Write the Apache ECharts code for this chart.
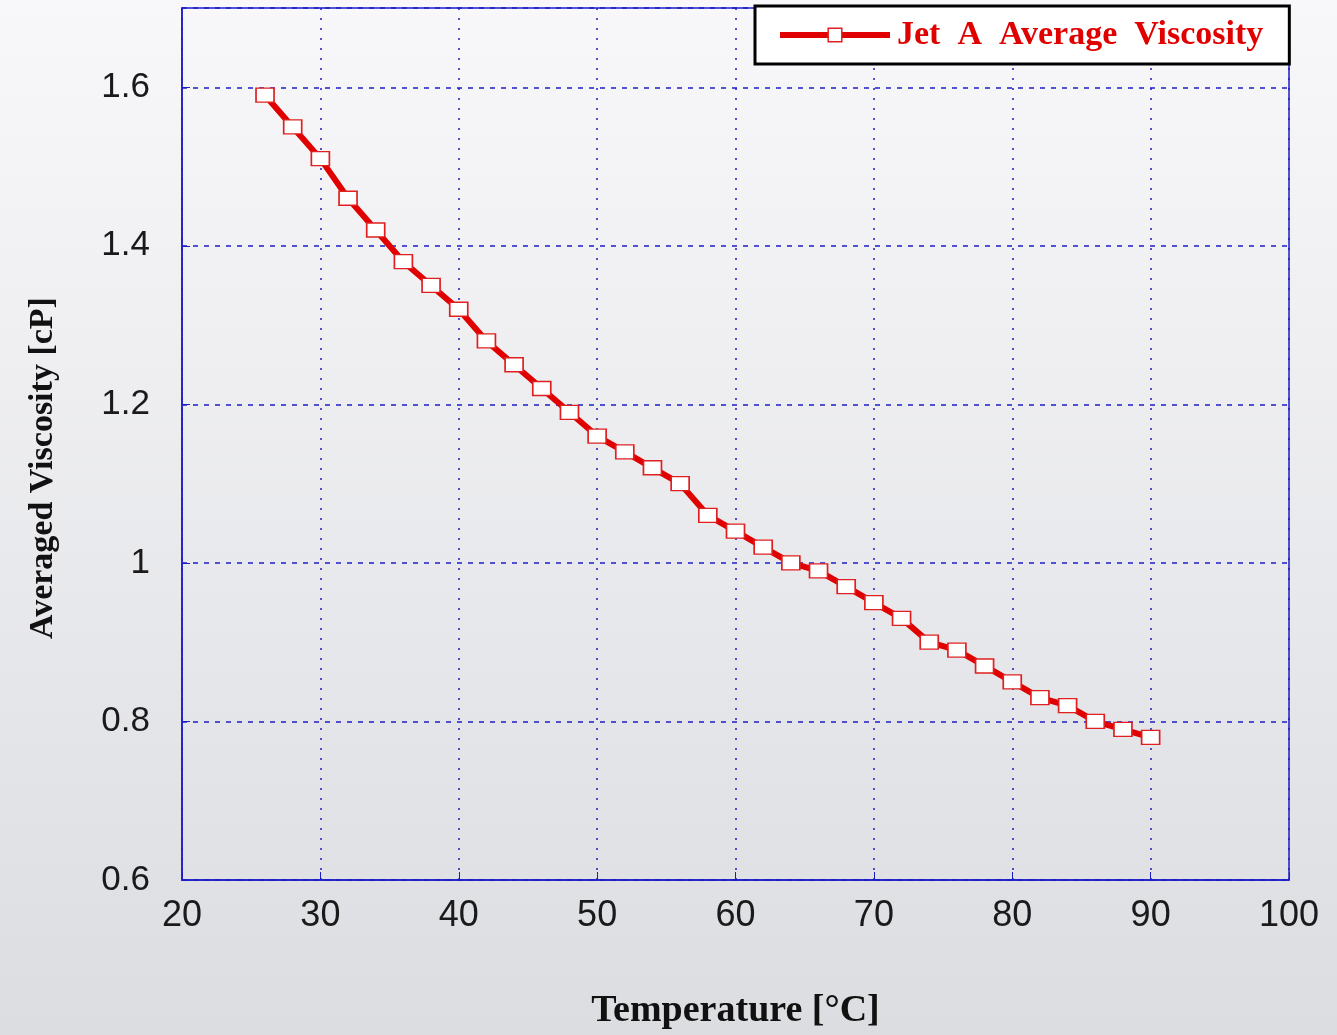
<!DOCTYPE html>
<html>
<head>
<meta charset="utf-8">
<script src="https://cdn.jsdelivr.net/npm/echarts@6/dist/echarts.min.js"></script>
<style>
html,body{margin:0;padding:0;overflow:hidden;}
#chart{width:1337px;height:1035px;}
</style>
</head>
<body>
<div id="chart"></div>
<script>
const temperatures = [26,28,30,32,34,36,38,40,42,44,46,48,50,52,54,56,58,60,62,64,66,68,70,72,74,76,78,80,82,84,86,88,90];
const viscosity = [1.59,1.55,1.51,1.46,1.42,1.38,1.35,1.32,1.28,1.25,1.22,1.19,1.16,1.14,1.12,1.10,1.06,1.04,1.02,1.00,0.99,0.97,0.95,0.93,0.90,0.89,0.87,0.85,0.83,0.82,0.80,0.79,0.78];
const seriesName = 'Jet A Average Viscosity';
const xTitle = 'Temperature [°C]';
const yTitle = 'Averaged Viscosity [cP]';

const chart = echarts.init(document.getElementById('chart'));
const blue = '#1c1cc8';
const option = {
  animation: false,
  backgroundColor: {
    type: 'linear', x: 0, y: 0, x2: 0, y2: 1,
    colorStops: [{offset: 0, color: '#f8f8fa'}, {offset: 1, color: '#dcdde1'}]
  },
  grid: {left: 182, right: 48, top: 8, bottom: 149, show: true, borderColor: blue, borderWidth: 1.5, backgroundColor: 'transparent'},
  legend: {
    data: [seriesName],
    left: 755, top: 6,
    backgroundColor: '#ffffff',
    borderColor: '#000000', borderWidth: 3,
    padding: [12, 26, 12, 22],
    itemWidth: 110, itemHeight: 17,
    lineStyle: {width: 6, color: '#e00000'},
    itemStyle: {color: '#ffffff', borderColor: '#e02020', borderWidth: 1.5},
    formatter: function (name) { return name.split(' ').join('  '); },
    textStyle: {color: '#e00000', fontFamily: 'Liberation Serif', fontWeight: 'bold', fontSize: 34, padding: [0, 0, 0, 2]}
  },
  xAxis: {
    type: 'value', min: 20, max: 100, interval: 10,
    name: xTitle, nameLocation: 'middle', nameGap: 112,
    nameTextStyle: {fontFamily: 'Liberation Serif', fontWeight: 'bold', fontSize: 38, color: '#111'},
    axisLine: {show: true, lineStyle: {color: blue, width: 1.5}},
    axisTick: {show: true, inside: true, length: 8, lineStyle: {color: blue}},
    axisLabel: {fontFamily: 'Liberation Sans', fontSize: 36, color: '#1a1a1a', margin: 18},
    splitLine: {show: true, lineStyle: {color: blue, type: [2, 8], width: 1.5}}
  },
  yAxis: {
    type: 'value', min: 0.6, max: 1.7, interval: 0.2,
    name: yTitle, nameLocation: 'middle', nameGap: 122, nameRotate: 90,
    nameTextStyle: {fontFamily: 'Liberation Serif', fontWeight: 'bold', fontSize: 34, color: '#111', padding: [0, 48, 0, 0]},
    axisLine: {show: true, lineStyle: {color: blue, width: 1.5}},
    axisTick: {show: true, inside: true, length: 8, lineStyle: {color: blue}},
    axisLabel: {fontFamily: 'Liberation Sans', fontSize: 35, color: '#1a1a1a', margin: 32, showMaxLabel: false},
    splitLine: {show: true, lineStyle: {color: blue, type: [5, 6], width: 1.5}}
  },
  series: [{
    name: seriesName,
    type: 'line',
    data: temperatures.map((t, i) => [t, viscosity[i]]),
    lineStyle: {color: '#e00000', width: 6},
    itemStyle: {color: '#ffffff', borderColor: '#e02020', borderWidth: 1.5},
    symbol: 'rect', symbolSize: [18, 14],
    showAllSymbol: true
  }]
};
chart.setOption(option);
</script>
</body>
</html>
